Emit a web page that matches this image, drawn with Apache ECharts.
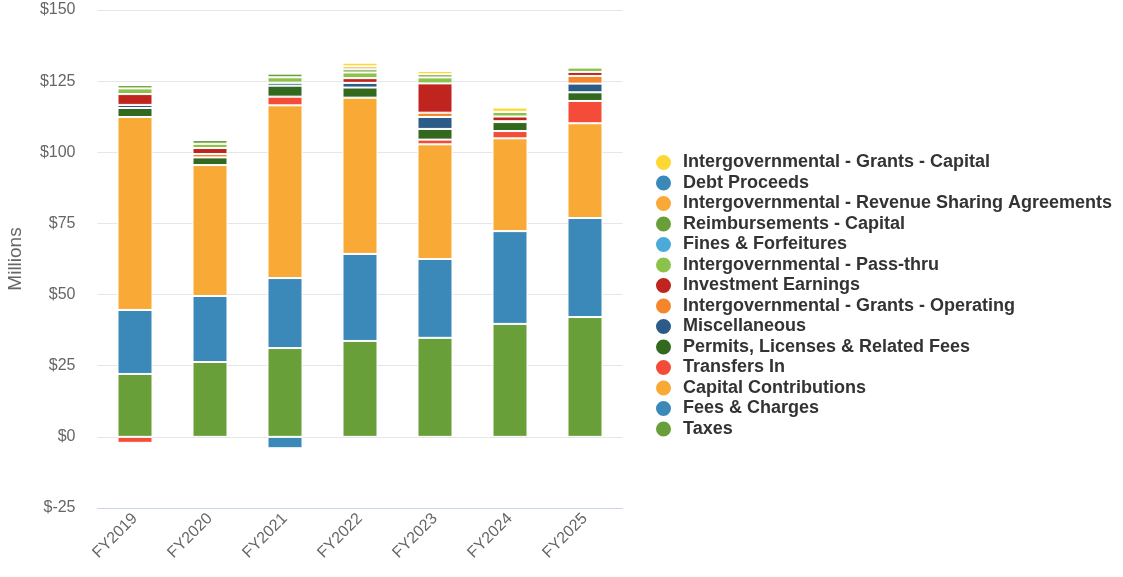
<!DOCTYPE html>
<html>
<head>
<meta charset="utf-8">
<script src="https://cdn.jsdelivr.net/npm/echarts@6/dist/echarts.min.js"></script>
<style>
  html, body { margin: 0; padding: 0; background: #fff; }
  #chart { width: 1123px; height: 577px; }
</style>
</head>
<body>
<div id="chart"></div>
<script>
// Revenue by source, fiscal years 2019-2025 (millions of dollars)
const categories = ['FY2019', 'FY2020', 'FY2021', 'FY2022', 'FY2023', 'FY2024', 'FY2025'];

const taxes               = [22.1, 26.3, 31.2, 33.7, 34.8, 39.7, 42.1];
const feesCharges         = [22.5, 23.2, 24.6, 30.6, 27.7, 32.6, 34.8];
const feesChargesNeg      = [0, 0, -4.0, 0, 0, 0, 0];
const capitalContrib      = [67.8, 46.0, 60.7, 54.9, 40.3, 32.6, 33.3];
const transfersIn         = [-2.1, 0, 3.05, 0, 1.65, 2.56, 7.83];
const permitsFees         = [3.16, 2.7, 3.86, 3.55, 3.76, 3.16, 3.05];
const miscellaneous       = [1.09, 0, 1.05, 1.65, 4.2, 0.3, 3.05];
const grantsOperating     = [0, 1.2, 0, 0, 1.5, 0, 2.7];
const investmentEarnings  = [3.8, 2.1, 0, 1.65, 10.3, 1.65, 1.4];
const passThru            = [2.0, 1.5, 1.9, 2.0, 2.1, 1.65, 1.55];
const finesForfeitures    = [0, 0, 0, 0, 0, 0, 0];
const reimbursementsCap   = [1.16, 1.3, 1.3, 1.09, 1.09, 0, 0];
const revenueSharing      = [0, 0, 0, 1.05, 0, 0, 0];
const debtProceeds        = [0, 0, 0, 0, 0, 0, 0];
const grantsCapital       = [0, 0, 0, 1.3, 1.2, 1.5, 0];

const yTicks = { min: -25, max: 150, interval: 25 };

// Stack order, bottom to top
const seriesDefs = [
  { name: 'Taxes', data: taxes, color: '#689f38' },
  { name: 'Fees & Charges', data: feesCharges, color: '#3a89b9' },
  { name: 'Capital Contributions', data: capitalContrib, color: '#f9a935' },
  { name: 'Transfers In', data: transfersIn, color: '#f44c39' },
  { name: 'Permits, Licenses & Related Fees', data: permitsFees, color: '#33691e' },
  { name: 'Miscellaneous', data: miscellaneous, color: '#2b5c88' },
  { name: 'Intergovernmental - Grants - Operating', data: grantsOperating, color: '#f5862b' },
  { name: 'Investment Earnings', data: investmentEarnings, color: '#c0241f' },
  { name: 'Intergovernmental - Pass-thru', data: passThru, color: '#8bc34a' },
  { name: 'Fines & Forfeitures', data: finesForfeitures, color: '#4aaad8' },
  { name: 'Reimbursements - Capital', data: reimbursementsCap, color: '#689f38' },
  { name: 'Intergovernmental - Revenue Sharing Agreements', data: revenueSharing, color: '#f9a935' },
  { name: 'Debt Proceeds', data: debtProceeds, color: '#3a89b9' },
  { name: 'Intergovernmental - Grants - Capital', data: grantsCapital, color: '#fdd835' }
];

const fontFamily = '"Liberation Sans", Arial, Helvetica, sans-serif';

function barSeries(name, data, color) {
  return {
    name: name,
    type: 'bar',
    stack: 'total',
    barWidth: 35,
    data: data,
    itemStyle: { color: color, borderColor: '#ffffff', borderWidth: 1 },
    emphasis: { disabled: true }
  };
}

const series = seriesDefs.map(d => barSeries(d.name, d.data, d.color));
// Negative Fees & Charges adjustment, stacked below zero
series.splice(2, 0, barSeries('Fees & Charges', feesChargesNeg, '#3a89b9'));

const chart = echarts.init(document.getElementById('chart'), null, { renderer: 'canvas' });

chart.setOption({
  animation: false,
  textStyle: { fontFamily: fontFamily },
  grid: { left: 97.5, right: 500.5, top: 10, bottom: 69 },
  legend: {
    orient: 'vertical',
    left: 654,
    top: 153,
    padding: 0,
    itemWidth: 17,
    itemHeight: 17,
    itemGap: 1.5,
    icon: 'circle',
    data: seriesDefs.map(d => d.name).reverse(),
    textStyle: {
      fontFamily: fontFamily,
      fontSize: 18,
      fontWeight: 'bold',
      color: '#333333',
      padding: [0, 0, 0, 6]
    },
    selectedMode: false
  },
  xAxis: {
    type: 'category',
    data: categories,
    axisLine: { show: true, onZero: false, lineStyle: { color: '#ccd6eb' } },
    axisTick: { show: false },
    axisLabel: {
      rotate: 45,
      color: '#666666',
      fontSize: 16,
      margin: 8,
      interval: 0
    }
  },
  yAxis: {
    type: 'value',
    min: yTicks.min,
    max: yTicks.max,
    interval: yTicks.interval,
    name: 'Millions',
    nameLocation: 'middle',
    nameGap: 72,
    nameRotate: 90,
    nameTextStyle: { color: '#666666', fontSize: 19 },
    axisLine: { show: false },
    axisTick: { show: false },
    axisLabel: {
      color: '#666666',
      fontSize: 16,
      margin: 22,
      formatter: v => '$' + v
    },
    splitLine: { lineStyle: { color: '#e6e6e6', width: 1 } }
  },
  series: series
});
</script>
</body>
</html>
